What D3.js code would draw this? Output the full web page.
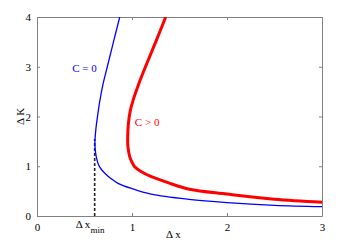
<!DOCTYPE html>
<html>
<head>
<meta charset="utf-8">
<script src="https://cdn.jsdelivr.net/npm/d3@7"></script>
<style>
  body { margin: 0; background: #fff; }
  text { font-family: "Liberation Serif", "DejaVu Serif", serif; }
</style>
</head>
<body>
<div id="chart-holder"></div>
<script>
// curve points: [dx, dK]
var blueCurve = [[0.871, 4], [0.805, 3.5], [0.74, 3], [0.695, 2.65], [0.66, 2.3], [0.637, 2.0],
  [0.62, 1.75], [0.61, 1.5], [0.612, 1.35], [0.625, 1.18], [0.65, 1.02], [0.68, 0.93],
  [0.714, 0.86], [0.78, 0.75], [0.853, 0.657], [1.0, 0.55], [1.2, 0.44], [1.6, 0.335],
  [2.0, 0.27], [2.5, 0.215], [3.0, 0.187]];
var redCurve = [[1.355, 4], [1.25, 3.5], [1.142, 3], [1.07, 2.65], [1.015, 2.35], [0.98, 2.1],
  [0.962, 1.85], [0.955, 1.6], [0.957, 1.4], [0.975, 1.2], [1.0, 1.08], [1.028, 0.99],
  [1.09, 0.9], [1.204, 0.79], [1.379, 0.67], [1.605, 0.537], [2.0, 0.44], [2.5, 0.335],
  [3.0, 0.275]];
var dxMin = 0.607, dxMinTop = 1.55;
var xTicks = [0, 1, 2, 3];
var yTicks = [0, 1, 2, 3, 4];

var margin = { top: 17, right: 23, bottom: 35, left: 37 },
  width = 345 - margin.left - margin.right,
  height = 251 - margin.top - margin.bottom;

var x = d3.scaleLinear().domain([0, 3]).range([0, width]);
var y = d3.scaleLinear().domain([0, 4]).range([height, 0]);

var svg = d3.select("#chart-holder").append("svg")
  .attr("width", 345)
  .attr("height", 251)
  .append("g")
  .attr("transform", "translate(" + margin.left + "," + margin.top + ")");

var grey = "#808080";

// axes, ticks pointing inward, box all round
function styleAxis(g) {
  g.select(".domain").attr("stroke", grey);
  g.selectAll(".tick line").attr("stroke", grey);
  g.selectAll(".tick text").attr("fill", "#000").style("font-size", "11px")
    .style("font-family", "Liberation Serif, serif");
}
svg.append("g").attr("transform", "translate(0," + height + ")")
  .call(d3.axisBottom(x).tickValues(xTicks).tickSizeInner(-3).tickSizeOuter(0).tickPadding(7).tickFormat(d3.format("d")))
  .call(styleAxis);
svg.append("g")
  .call(d3.axisLeft(y).tickValues(yTicks).tickSizeInner(-3).tickSizeOuter(0).tickPadding(6).tickFormat(d3.format("d")))
  .call(styleAxis);
svg.append("g")
  .call(d3.axisTop(x).tickValues(xTicks).tickSizeInner(-3).tickSizeOuter(0).tickFormat(""))
  .call(styleAxis);
svg.append("g").attr("transform", "translate(" + width + ",0)")
  .call(d3.axisRight(y).tickValues(yTicks).tickSizeInner(-3).tickSizeOuter(0).tickFormat(""))
  .call(styleAxis);

var valueline = d3.line()
  .x(function (d) { return x(d[0]); })
  .y(function (d) { return y(d[1]); })
  .curve(d3.curveCatmullRom.alpha(0.5));

svg.append("defs").append("clipPath").attr("id", "clip")
  .append("rect").attr("width", width).attr("height", height);

// dashed marker at dx_min
svg.append("line")
  .attr("x1", x(dxMin)).attr("x2", x(dxMin))
  .attr("y1", y(0)).attr("y2", y(dxMinTop))
  .attr("stroke", "#222").attr("stroke-width", 1.6)
  .attr("stroke-dasharray", "3,2");

svg.append("path")
  .attr("clip-path", "url(#clip)")
  .attr("d", valueline(blueCurve))
  .attr("style", "fill:none;stroke:#0000ff;stroke-width:1.3px");

svg.append("path")
  .attr("clip-path", "url(#clip)")
  .attr("d", valueline(redCurve))
  .attr("style", "fill:none;stroke:#ff0000;stroke-width:3px");

// curve labels
svg.append("text").attr("x", x(0.37)).attr("y", y(2.9))
  .attr("fill", "#0000ff").style("font-size", "11px").text("C = 0");
svg.append("text").attr("x", x(1.03)).attr("y", y(1.8))
  .attr("fill", "#ff0000").style("font-size", "11px").text("C > 0");

// dx_min tick label
var lbl = svg.append("text").attr("x", x(dxMin) - 19).attr("y", height + 12)
  .style("font-size", "11px").attr("fill", "#000");
lbl.append("tspan").text("\u0394 x");
lbl.append("tspan").attr("dy", 5).style("font-size", "9px").text("min");

// axis titles
svg.append("text").attr("x", x(1.435)).attr("y", height + 22)
  .attr("text-anchor", "middle").style("font-size", "11px").text("\u0394 x");
svg.append("text")
  .attr("transform", "translate(" + (-13) + "," + y(2) + ") rotate(-90)")
  .attr("text-anchor", "middle").style("font-size", "11px").text("\u0394 K");
</script>
</body>
</html>
